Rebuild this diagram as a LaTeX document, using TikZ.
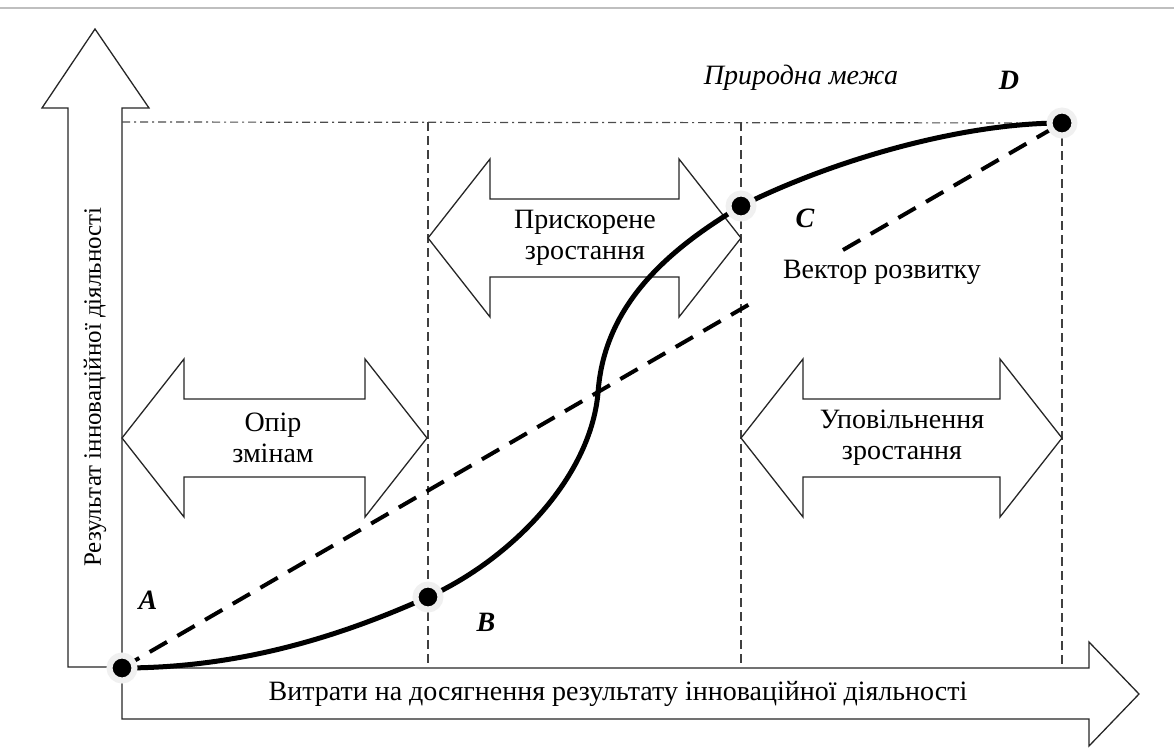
\documentclass[tikz,border=0pt]{standalone}
\usepackage{fontspec}
\setmainfont{Liberation Serif}
\usetikzlibrary{calc,shadows}
\begin{document}
\begin{tikzpicture}[x=1pt,y=-1pt,
  outl/.style={draw=black!85,line width=1.3pt,line join=miter,fill=white},
  txt/.style={font=\fontsize{28}{31}\selectfont,align=center,inner sep=0pt},
  letter/.style={font=\fontsize{28}{31}\selectfont\bfseries\itshape,inner sep=0pt},
  guide/.style={draw=black!75,line width=1.2pt,dash pattern=on 9pt off 5pt},
  limitline/.style={draw=black!70,line width=1.2pt,dash pattern=on 8pt off 4pt on 2pt off 4pt},
  scurve/.style={line width=5pt,black},
  vector/.style={line width=4pt,black,dash pattern=on 20pt off 12pt},
  dot/.style={circle,fill=black,draw=gray!12,line width=6pt,minimum size=25pt,inner sep=0pt,
    drop shadow={shadow xshift=1.5pt,shadow yshift=-1.5pt,fill=gray!45,opacity=0.8}}]
\useasboundingbox (0,0) rectangle (1174,747);
% top rule
\draw[gray!50,line width=1.2pt] (0,8) -- (1174,8);
% axes arrows
\draw[outl] (68,667) -- (68,108) -- (42,108) -- (95,29) -- (149,108) -- (122,108) -- (122,667) -- cycle;
\draw[outl] (122,668) -- (122,719) -- (1089,719) -- (1089,746) -- (1139,694) -- (1089,642) -- (1089,668) -- cycle;
\node[inner sep=0pt,font=\fontsize{25}{30}\selectfont,rotate=90,anchor=west] (ylab) at (95,567) {Результат інноваційної діяльності};
\node[txt] (xlab) at (618,694) {Витрати на досягнення результату інноваційної діяльності};
% coordinates
\coordinate (A) at (122,668);
\coordinate (B) at (428,597);
\coordinate (I) at (598,393);
\coordinate (C) at (741,206);
\coordinate (D) at (1062,123);
\coordinate (Btop) at (428,122);
\coordinate (Bbot) at (428,667);
\coordinate (Ctop) at (741,122);
\coordinate (Cbot) at (741,667);
\coordinate (Dbot) at (1062,667);
\coordinate (Ltop) at (122,122);
% guide lines
\draw[limitline] (Ltop) -- (D);
\draw[guide] (Btop) -- (Bbot);
\draw[guide] (Ctop) -- (Cbot);
\draw[guide] (D) -- (Dbot);
% double arrows
\newcommand{\dblarr}[3]{%
  \draw[outl] (#1,#3) -- ++(62,-79) -- ++(0,40) -- ({#2-62},{#3-39}) -- ++(0,-40) -- (#2,#3)
    -- ++(-62,79) -- ++(0,-40) -- ({#1+62},{#3+39}) -- ++(0,40) -- cycle;}
\dblarr{122}{427}{438}
\dblarr{428}{741}{238}
\dblarr{741}{1062}{438}
\node[txt] (t1) at (273,438) {Опір\\змінам};
\node[txt] (t2) at (585,238) {Прискорене\\зростання};
\node[txt] (t3) at (902,438) {Уповільнення\\зростання};
% vector of development
\draw[vector] (A) -- ($(A)!0.671!(D)$);
\draw[vector] ($(A)!0.767!(D)$) -- (D);
\node[txt] (vec) at (882,272) {Вектор розвитку};
% S-curve
\draw[scurve] (A) .. controls (230,668) and (328,642) .. (B)
  .. controls (508,561) and (590,480) .. (I)
  .. controls (604,303) and (671,248) .. (C)
  .. controls (831,161) and (960,123) .. (D);
% points
\node[dot] (pA) at (A) {};
\node[dot] (pB) at (B) {};
\node[dot] (pC) at (C) {};
\node[dot] (pD) at (D) {};
\node[letter] (lA) at (148,600) {A};
\node[letter] (lB) at (486,622) {B};
\node[letter] (lC) at (805,218) {C};
\node[letter] (lD) at (1009,80) {D};
\node[txt,font=\fontsize{28}{31}\selectfont\itshape] (lim) at (801,78) {Природна межа};
\end{tikzpicture}
\end{document}
